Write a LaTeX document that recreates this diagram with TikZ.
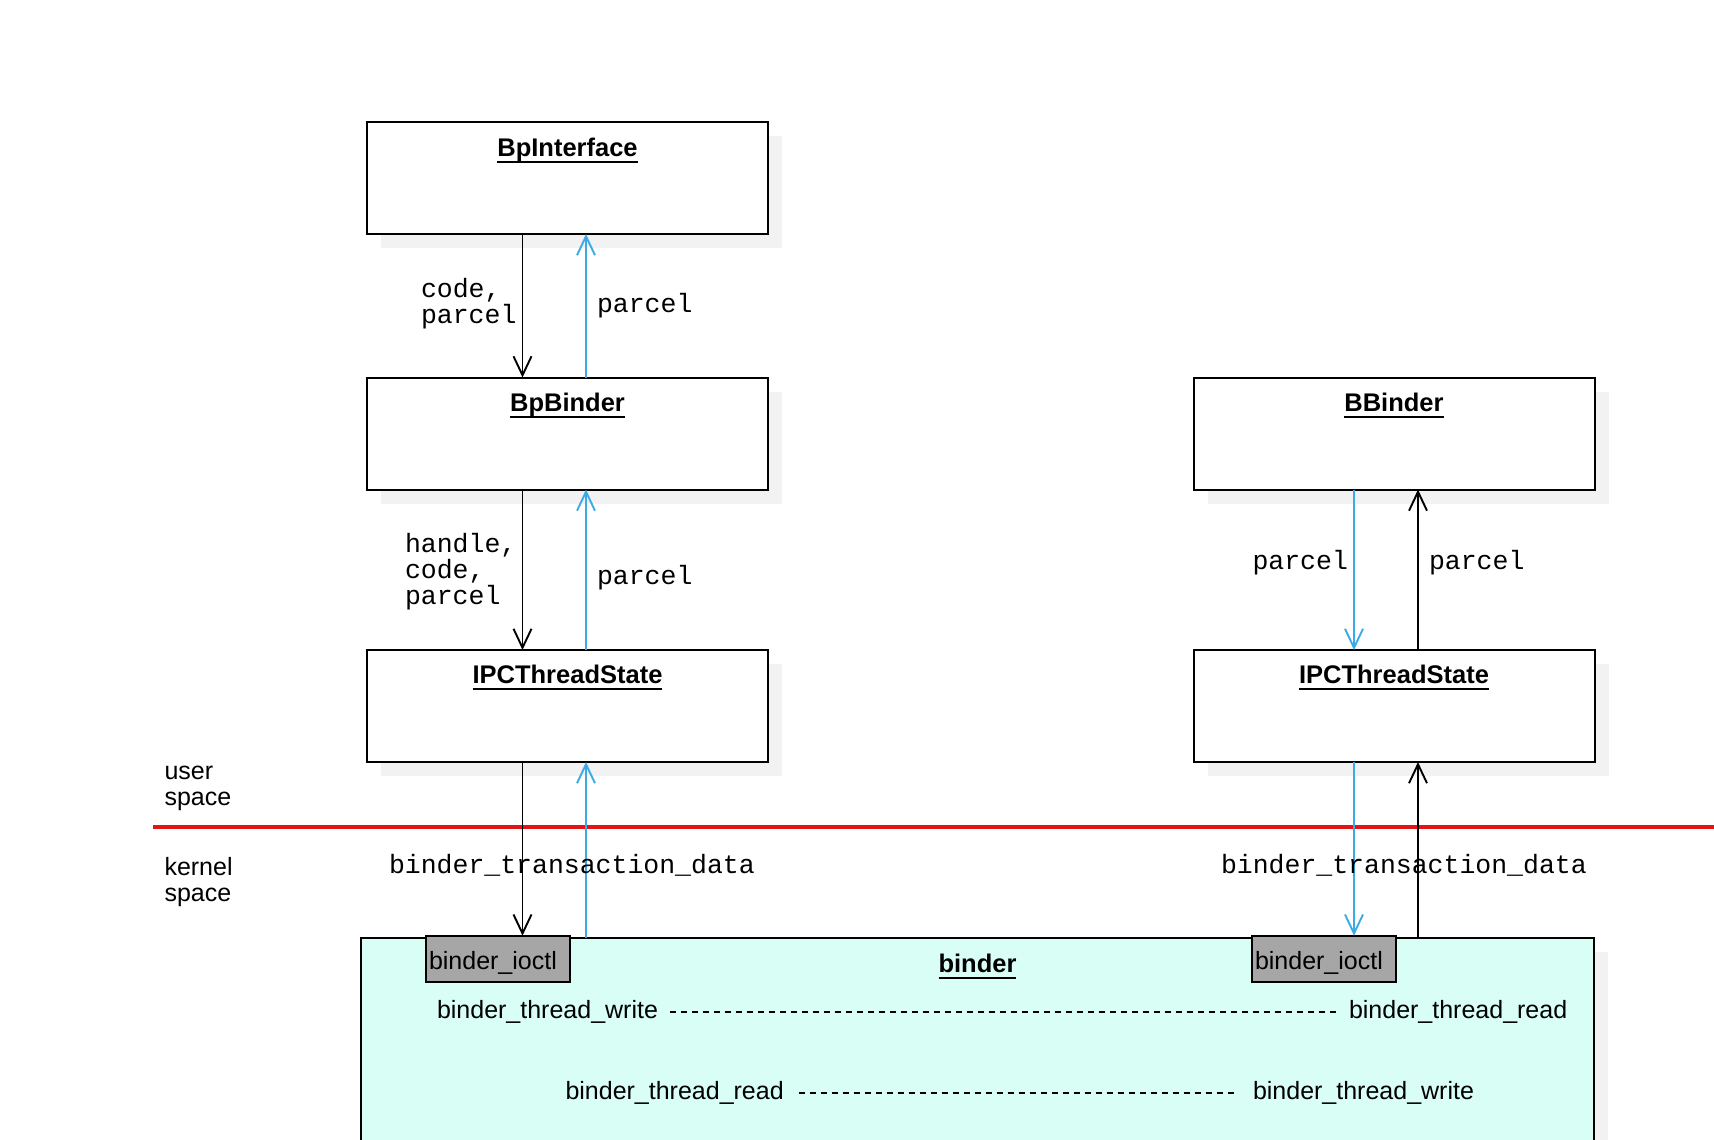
\documentclass[tikz,border=0pt]{standalone}
\usepackage{fontspec}
\setmainfont{Liberation Sans}
\setmonofont{Liberation Mono}
\usetikzlibrary{arrows.meta,shadows}

\definecolor{flowblue}{HTML}{3BAAE6}
\definecolor{boxshadow}{HTML}{F2F2F2}
\definecolor{kernelfill}{HTML}{D8FEF6}
\definecolor{ioctlgray}{HTML}{A6A6A6}
\definecolor{splitred}{HTML}{E01515}

% bold class name with a heavy underline
\newcommand\classtitle[1]{\setbox0\hbox{\bfseries #1}\rlap{\rule[-6.5pt]{\wd0}{2pt}}\box0}
% left-aligned line stack whose baseline is that of its first line
\newcommand\twolines[2]{\vtop{\hbox{#1}\hbox{#2}}}
\newcommand\threelines[3]{\vtop{\hbox{#1}\hbox{#2}\hbox{#3}}}

\begin{document}
\begin{tikzpicture}[x=1pt,y=-1pt,
  classbox/.style={draw=black, line width=2pt, fill=white, rectangle,
    anchor=north west, inner sep=0pt, outer sep=0pt,
    minimum width=401pt, minimum height=112pt,
    general shadow={fill=boxshadow, shadow xshift=14pt, shadow yshift=-14pt}},
  kernelbox/.style={draw=black, line width=2pt, fill=kernelfill, rectangle,
    anchor=north west, inner sep=0pt, outer sep=0pt,
    minimum width=1233pt, minimum height=320pt,
    general shadow={fill=boxshadow, shadow xshift=14pt, shadow yshift=-14pt}},
  ioctlbox/.style={draw=black, line width=2pt, fill=ioctlgray, rectangle,
    anchor=north west, inner sep=0pt, outer sep=0pt,
    minimum width=144pt, minimum height=46pt},
  sanstext/.style={inner sep=0pt, outer sep=0pt, font=\fontsize{25}{26}\selectfont},
  title/.style={anchor=base, inner sep=0pt, outer sep=0pt, font=\fontsize{25.5}{26}\selectfont},
  sidenote/.style={sanstext, anchor=base west},
  monotext/.style={inner sep=0pt, outer sep=0pt, anchor=base west,
    font=\fontsize{26.5}{26}\selectfont\ttfamily},
  tip/.style={-{Straight Barb[length=19pt,width=18pt]}},
  callline/.style={tip, draw=black, line width=1.9pt},
  retline/.style={tip, draw=flowblue, line width=1.9pt},
  splitline/.style={draw=splitred, line width=3.3pt},
  pairline/.style={draw=black, line width=1.4pt, dash pattern=on 6pt off 5pt}
]
\useasboundingbox (0,0) rectangle (1714,1140);
\clip (0,0) rectangle (1714,1140);

% ---- class boxes ----
\node[classbox] (bpi)  at (367,122) {};
\node[classbox] (bpb)  at (367,377.5) {};
\node[classbox] (lipc) at (367,650) {};
\node[classbox] (bb)   at (1193.5,377.5) {};
\node[classbox] (ripc) at (1193.5,650) {};

\node[title] (bpiT)  at (567.5,156.5) {\classtitle{BpInterface}};
\node[title] (bpbT)  at (567.5,411.5) {\classtitle{BpBinder}};
\node[title] (lipcT) at (567.5,683.5) {\classtitle{IPCThreadState}};
\node[title] (bbT)   at (1394,411.5) {\classtitle{BBinder}};
\node[title] (ripcT) at (1394,683.5) {\classtitle{IPCThreadState}};

% ---- user / kernel split ----
\coordinate (redL) at (153,827);
\coordinate (redR) at (1714,827);
\draw[splitline] (redL) -- (redR);
\node[sidenote] (userlbl)   at (164.5,779) {\twolines{user}{space}};
\node[sidenote] (kernellbl) at (164.5,875) {\twolines{kernel}{space}};

% ---- kernel driver ----
\node[kernelbox] (kern) at (361,938) {};
\node[title] (kernT) at (977.5,972.5) {\classtitle{binder}};
\node[ioctlbox] (ioL) at (426,935.7) {};
\node[ioctlbox] (ioR) at (1252,935.7) {};
\node[sanstext, anchor=base west] (ioLT) at (429,969.5) {binder\_ioctl};
\node[sanstext, anchor=base west] (ioRT) at (1255,969.5) {binder\_ioctl};

\node[sanstext, anchor=base west] (btwA) at (437,1018.5) {binder\_thread\_write};
\node[sanstext, anchor=base west] (btrA) at (1349,1018.5) {binder\_thread\_read};
\node[sanstext, anchor=base west] (btrB) at (565.5,1099.5) {binder\_thread\_read};
\node[sanstext, anchor=base west] (btwB) at (1253,1099.5) {binder\_thread\_write};
\draw[pairline, shorten <=12pt, shorten >=13pt] (btwA.east) -- (btrA.west);
\draw[pairline, shorten <=15pt, shorten >=17pt] (btrB.east) -- (btwB.west);

% ---- flow columns ----
\coordinate (cL1) at (522.5,0);
\coordinate (cL2) at (586,0);
\coordinate (cR1) at (1354,0);
\coordinate (cR2) at (1418,0);

\draw[callline] (bpi.south -| cL1) -- (bpb.north -| cL1);
\draw[retline]  (bpb.north -| cL2) -- (bpi.south -| cL2);
\draw[callline] (bpb.south -| cL1) -- (lipc.north -| cL1);
\draw[retline]  (lipc.north -| cL2) -- (bpb.south -| cL2);
\draw[callline] (lipc.south -| cL1) -- (ioL.north -| cL1);
\draw[retline]  (kern.north -| cL2) -- (lipc.south -| cL2);

\draw[retline]  (bb.south -| cR1) -- (ripc.north -| cR1);
\draw[callline] (ripc.north -| cR2) -- (bb.south -| cR2);
\draw[retline]  (ripc.south -| cR1) -- (ioR.north -| cR1);
\draw[callline] (kern.north -| cR2) -- (ripc.south -| cR2);

% ---- data labels ----
\node[monotext] (lblA) at (421,297) {\twolines{code,}{parcel}};
\node[monotext] (lblB) at (597,312) {parcel};
\node[monotext] (lblC) at (405,552) {\threelines{handle,}{code,}{parcel}};
\node[monotext] (lblD) at (597,584) {parcel};
\node[monotext] (lblE) at (1252.5,569) {parcel};
\node[monotext] (lblF) at (1429,569) {parcel};
\node[monotext] (lblG) at (389,873) {binder\_transaction\_data};
\node[monotext] (lblH) at (1221,873) {binder\_transaction\_data};
\end{tikzpicture}
\end{document}
